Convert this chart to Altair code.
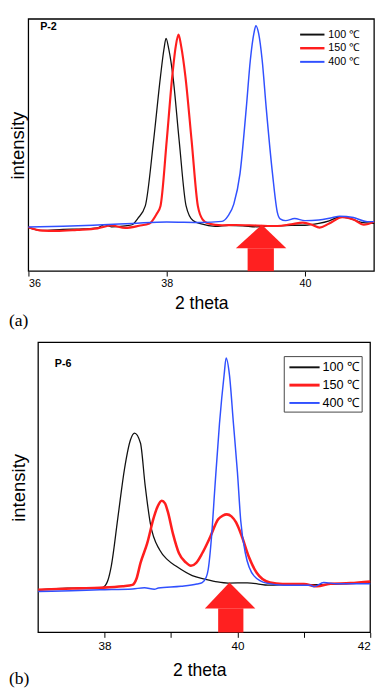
import altair as alt
import pandas as pd

# ---------------- Panel (a): P-2 ----------------
A_T100 = [36.0, 36.2, 36.5, 36.8, 37.0, 37.1, 37.2, 37.4, 37.5, 37.58, 37.69, 37.81, 37.91, 37.96, 37.99,
          38.03, 38.09, 38.18, 38.28, 38.38, 38.5, 38.7, 38.9, 39.1, 39.3, 39.5, 39.8, 40.0, 40.2, 40.35,
          40.5, 40.65, 40.8, 41.0]
A_I100 = [16.9, 15.8, 16.2, 16.4, 16.8, 18.0, 17.2, 17.6, 18.0, 20.4, 25.3, 50.6, 75.5, 86.0, 90.2,
          86.0, 75.5, 50.6, 25.3, 19.6, 18.3, 17.4, 17.8, 17.6, 17.2, 17.4, 17.8, 17.8, 18.5, 19.5,
          21.0, 20.5, 19.0, 18.5]

A_T150 = [36.0, 36.2, 36.4, 36.7, 37.0, 37.2, 37.4, 37.6, 37.75, 37.85, 37.91, 38.0, 38.08, 38.13, 38.17,
          38.21, 38.27, 38.36, 38.45, 38.52, 38.6, 38.8, 39.0, 39.3, 39.6, 39.8, 39.97, 40.1, 40.21, 40.35,
          40.54, 40.7, 40.85, 41.0]
A_I150 = [17.0, 15.7, 15.6, 16.0, 16.6, 17.7, 16.8, 17.6, 18.5, 22.0, 25.3, 50.6, 75.5, 87.0, 91.7,
          87.0, 75.5, 50.6, 25.3, 20.0, 18.5, 17.8, 17.9, 17.7, 17.5, 18.2, 18.8, 18.0, 16.9, 18.5,
          20.9, 20.0, 18.0, 19.2]

A_T400 = [36.0, 36.5, 37.0, 37.5, 38.0, 38.5, 38.8, 38.89, 38.97, 39.06, 39.15, 39.21, 39.26, 39.29,
          39.33, 39.38, 39.44, 39.53, 39.6, 39.64, 39.72, 39.85, 40.0, 40.2, 40.4, 40.5, 40.7, 40.9, 41.0]
A_I400 = [17.1, 17.4, 17.9, 18.5, 19.1, 18.9, 19.3, 21.5, 26.0, 37.8, 63.0, 81.9, 92.0, 95.1,
          92.0, 81.9, 63.0, 37.8, 22.8, 20.3, 19.6, 20.4, 19.6, 19.8, 20.8, 21.3, 20.8, 19.2, 19.2]

# ---------------- Panel (b): P-6 ----------------
B_T100 = [37.0, 37.2, 37.44, 37.7, 37.93, 37.98, 38.05, 38.10, 38.2, 38.30, 38.39, 38.45, 38.54, 38.61,
          38.69, 38.83, 38.95, 39.08, 39.32, 39.51, 39.7, 39.86, 40.15, 40.49, 40.8, 41.2, 41.6, 42.0]
B_I100 = [14.7, 15.0, 15.3, 15.2, 15.3, 15.6, 18.0, 22.8, 39.6, 56.4, 66.4, 68.7, 65.3, 50.8,
          37.4, 28.4, 25.0, 22.8, 19.6, 18.4, 17.4, 17.0, 17.1, 16.3, 16.5, 16.5, 16.8, 17.2]

B_T150 = [37.0, 37.3, 37.6, 37.93, 38.27, 38.42, 38.48, 38.54, 38.64, 38.74, 38.80, 38.86, 38.91, 38.95,
          39.03, 39.12, 39.22, 39.30, 39.38, 39.47, 39.59, 39.71, 39.78, 39.84, 39.91, 39.98, 40.07, 40.17,
          40.29, 40.49, 40.68, 41.0, 41.2, 41.4, 41.7, 42.0]
B_I150 = [14.7, 15.0, 15.2, 15.4, 15.9, 16.4, 18.5, 23.9, 30.6, 39.6, 43.5, 45.4, 44.5, 41.8,
          34.0, 27.3, 24.2, 23.0, 24.0, 27.3, 32.9, 39.0, 40.3, 40.7, 40.0, 37.9, 32.9, 26.2,
          20.6, 17.2, 16.7, 16.7, 15.9, 16.8, 17.0, 17.6]

B_T400 = [37.0, 37.5, 37.93, 38.42, 38.6, 38.75, 38.81, 39.15, 39.39, 39.47, 39.53, 39.56, 39.61, 39.66,
          39.73, 39.80, 39.83, 39.88, 39.94, 40.0, 40.05, 40.12, 40.25, 40.44, 40.7, 41.1, 41.15, 41.3,
          41.5, 42.0]
B_I400 = [14.1, 14.4, 14.7, 15.0, 15.4, 14.9, 15.3, 15.9, 16.7, 17.2, 19.0, 21.7, 32.9, 49.7,
          72.0, 88.8, 94.6, 88.8, 72.0, 55.3, 38.5, 27.3, 19.5, 17.0, 16.3, 16.3, 15.8, 17.2,
          16.8, 16.8]

SERIES = ["100 ℃", "150 ℃", "400 ℃"]
COLORS = ["#111111", "#ff1e1e", "#3050ff"]

# arrows: [left of head, centre, right of head], shaft [left, right], tip, head base
A_ARROW_X = [39.00, 39.376, 39.73]
A_SHAFT_X = [39.17, 39.55]
A_ARROW_Y = [18.0, 8.9]
B_ARROW_X = [39.51, 39.88, 40.27]
B_SHAFT_X = [39.71, 40.09]
B_ARROW_Y = [17.2, 8.3]

ARROW_COLOR = "#ff2020"
FONT = "Liberation Sans"


def panel(curves, widths, xdom, frame_x, ydom, w, h, ticks, label_vals, arrow_x, shaft_x, arrow_y,
          tag, tag_pos, letter, letter_pos, legend, label_size, label_pad, title_pad, ytitle_pad):
    xs = alt.Scale(domain=xdom, nice=False, zero=False)
    ys = alt.Scale(domain=ydom, nice=False, zero=False)
    label_expr = "indexof([" + ",".join(str(v) for v in label_vals) + "], datum.value) >= 0 ? datum.label : ''"
    xaxis = alt.Axis(values=ticks, format="d", labelExpr=label_expr, grid=False, tickSize=5, tickColor="black",
                     domain=False, labelColor="black", labelFontSize=label_size, labelFont=FONT,
                     labelPadding=label_pad, title="2 theta", titleFont=FONT, titleFontSize=18,
                     titleFontWeight="normal", titleColor="black", titlePadding=title_pad)
    yaxis = alt.Axis(labels=False, ticks=False, grid=False, domain=False, title="intensity",
                     titleFont=FONT, titleFontSize=19, titleFontWeight="normal", titleColor="black",
                     titlePadding=ytitle_pad)
    layers = []
    # frame of the plotting area (data range of the panel)
    frame = pd.DataFrame({"x1": [frame_x[0]], "x2": [frame_x[1]], "y1": [ydom[0]], "y2": [ydom[1]]})
    layers.append(alt.Chart(frame).mark_rect(fill="white", stroke="black", strokeWidth=1.3).encode(
        x=alt.X("x1:Q", scale=xs, axis=xaxis), x2="x2:Q",
        y=alt.Y("y1:Q", scale=ys, axis=yaxis), y2="y2:Q"))
    for (t, i), name, col, sw in zip(curves, SERIES, COLORS, widths):
        df = pd.DataFrame({"theta": t, "intensity": i, "series": name})
        layers.append(alt.Chart(df).mark_line(color=col, strokeWidth=sw, interpolate="monotone").encode(
            x=alt.X("theta:Q", scale=xs, axis=xaxis),
            y=alt.Y("intensity:Q", scale=ys, axis=yaxis)))
    head = pd.DataFrame({"theta": arrow_x, "y": [arrow_y[1], arrow_y[0], arrow_y[1]], "y2": [arrow_y[1]] * 3})
    layers.append(alt.Chart(head).mark_area(color=ARROW_COLOR, opacity=1).encode(
        x=alt.X("theta:Q", scale=xs), y=alt.Y("y:Q", scale=ys), y2="y2:Q"))
    shaft = pd.DataFrame({"x1": [shaft_x[0]], "x2": [shaft_x[1]], "y1": [ydom[0]], "y2": [arrow_y[1]]})
    layers.append(alt.Chart(shaft).mark_rect(color=ARROW_COLOR).encode(
        x=alt.X("x1:Q", scale=xs), x2="x2:Q", y=alt.Y("y1:Q", scale=ys), y2="y2:Q"))
    # legend
    lg = legend
    base = alt.Chart(pd.DataFrame({"a": [0]}))
    if lg.get("box"):
        bx = lg["box"]
        layers.append(base.mark_rect(fill="white", stroke="#444444", strokeWidth=1).encode(
            x=alt.value(bx[0]), x2=alt.value(bx[1]), y=alt.value(bx[2]), y2=alt.value(bx[3])))
    for k, (name, col) in enumerate(zip(SERIES, COLORS)):
        yy = lg["rows"][k]
        layers.append(base.mark_rule(color=col, strokeWidth=lg["lw"][k]).encode(
            x=alt.value(lg["x1"]), x2=alt.value(lg["x2"]), y=alt.value(yy)))
        layers.append(base.mark_text(text=name, align="left", baseline="middle", font=FONT,
                                     fontSize=lg["fs"], color="black").encode(
            x=alt.value(lg["tx"]), y=alt.value(yy)))
    layers.append(base.mark_text(text=tag, align="left", baseline="middle", font=FONT, fontSize=11,
                                 fontWeight="bold", color="black").encode(
        x=alt.value(tag_pos[0]), y=alt.value(tag_pos[1])))
    layers.append(base.mark_text(text=letter, align="left", baseline="middle", font="Liberation Serif",
                                 fontSize=18, color="black").encode(
        x=alt.value(letter_pos[0]), y=alt.value(letter_pos[1])))
    return alt.layer(*layers).properties(width=w, height=h, view=alt.ViewBackground(stroke="transparent"))


pa = panel([(A_T100, A_I100), (A_T150, A_I150), (A_T400, A_I400)], [1.3, 2.2, 1.5],
           [36, 41], [36, 41], [0, 97.7], 355, 259, [36, 38, 40], [36, 38, 40],
           A_ARROW_X, A_SHAFT_X, A_ARROW_Y, "P-2", [12, 8], "(a)", [-20, 310],
           {"rows": [16, 30, 44], "x1": 279, "x2": 304, "tx": 308, "fs": 11, "lw": [2, 2.5, 2]},
           11, 2, 6, 1)

# panel (b) starts 10 px further right: its scale is extended to the left by 10 px
pb = panel([(B_T100, B_I100), (B_T150, B_I150), (B_T400, B_I400)], [1.3, 2.6, 1.5],
           [36.8534, 42], [37, 42], [0, 100], 351, 298, [38, 39, 40, 41, 42], [38, 40, 42],
           B_ARROW_X, B_SHAFT_X, B_ARROW_Y, "P-6", [27, 22], "(b)", [-20, 346],
           {"rows": [25.7, 44, 62.3], "x1": 268, "x2": 299, "tx": 302, "fs": 13, "lw": [2, 3, 2],
            "box": [262.7, 342.7, 14.7, 71.7]},
           12, 4, 10, 0)

chart = alt.vconcat(pa, pb, spacing=10).properties(padding=0).configure(background="white")

chart.save("out.html", embed_options={"renderer": "svg", "actions": False})
